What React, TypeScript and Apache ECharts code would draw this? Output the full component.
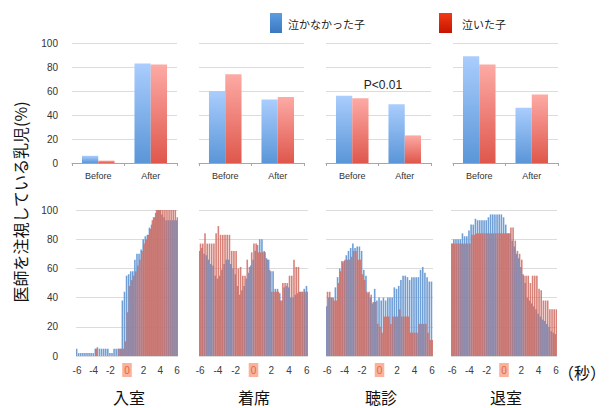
import React, { useEffect, useRef } from "react";
import * as echarts from "echarts";

// Summary bars: share of infants looking at the doctor before / after each event
const summaryCategories = ["Before", "After"];
const summaryNotCried = {
  entry: [6, 83],
  seat: [60, 53],
  auscultation: [56, 49],
  exit: [89, 46],
};
const summaryCried = {
  entry: [2, 82],
  seat: [74, 55],
  auscultation: [54, 23],
  exit: [82, 57],
};

// Time course around each event, 0.25 s bins from -6 s to +6 s
const timeTicks = ["-6", "-4", "-2", "0", "2", "4", "6"];
const timeBins: string[] = Array.from({ length: 49 }, (_, i) => String(-6 + i * 0.25));

const entryNotCried = [
  5, 2, 2, 2, 2, 2, 2, 2, 2, 5, 6, 5, 5, 5, 5, 5, 2, 2, 5, 5, 5, 5, 38, 44, 55,
  56, 58, 58, 66, 70, 70, 73, 80, 82, 83, 88, 90, 95, 98, 100, 100, 97, 95, 93, 93, 93, 93, 93, 93,
];
const entryCried = [
  0, 0, 0, 0, 0, 0, 0, 0, 0, 5, 0, 0, 0, 0, 0, 0, 0, 0, 0, 0, 5, 5, 5, 10, 30,
  48, 52, 55, 58, 62, 66, 72, 77, 80, 83, 87, 93, 95, 100, 100, 100, 100, 100, 100, 100, 100, 100, 100, 95,
];
const seatNotCried = [
  72, 74, 70, 69, 66, 63, 62, 55, 53, 55, 59, 63, 66, 66, 63, 60, 56, 48, 42, 45, 48, 53, 57, 62, 66,
  72, 76, 80, 80, 72, 67, 66, 58, 58, 46, 46, 43, 38, 47, 48, 47, 40, 40, 42, 43, 44, 44, 46, 48,
];
const seatCried = [
  77, 77, 84, 77, 77, 77, 77, 84, 89, 83, 83, 83, 83, 83, 72, 72, 72, 60, 61, 55, 55, 66, 61, 71, 77,
  77, 71, 71, 71, 71, 66, 59, 44, 44, 44, 44, 38, 50, 50, 50, 55, 55, 66, 61, 61, 44, 44, 44, 44,
];
const auscNotCried = [
  34, 40, 40, 40, 47, 54, 60, 65, 65, 69, 72, 74, 77, 74, 75, 75, 72, 59, 55, 43, 40, 36, 46, 38, 40,
  38, 40, 38, 40, 40, 40, 47, 46, 48, 52, 55, 55, 54, 52, 54, 54, 54, 54, 59, 61, 57, 54, 51, 51,
];
const auscCried = [
  44, 44, 40, 38, 38, 50, 58, 64, 66, 66, 66, 68, 72, 72, 66, 66, 56, 52, 44, 44, 42, 37, 37, 22, 20,
  16, 27, 27, 27, 22, 27, 27, 27, 32, 27, 27, 27, 27, 16, 16, 16, 16, 22, 22, 22, 22, 16, 11, 11,
];
const exitNotCried = [
  77, 80, 80, 80, 80, 84, 82, 82, 86, 90, 90, 94, 93, 93, 93, 93, 93, 95, 97, 97, 97, 97, 97, 97, 95,
  90, 84, 84, 79, 75, 70, 67, 61, 56, 50, 40, 38, 36, 34, 32, 29, 27, 25, 24, 22, 20, 17, 16, 15,
];
const exitCried = [
  77, 77, 77, 77, 77, 77, 77, 77, 77, 83, 83, 84, 84, 84, 84, 84, 84, 84, 84, 84, 84, 84, 84, 84, 84,
  84, 84, 88, 88, 79, 72, 70, 66, 55, 55, 55, 50, 55, 55, 55, 46, 45, 38, 38, 38, 32, 32, 32, 32,
];

const eventNames = ["入室", "着席", "聴診", "退室"];
const legendNames = ["泣かなかった子", "泣いた子"];
const yTitle = "医師を注視している乳児(%)";
const pValueNote = "P<0.01";
const secondsUnit = "（秒）";

const summaryKeys = ["entry", "seat", "auscultation", "exit"] as const;
const courseNotCried = [entryNotCried, seatNotCried, auscNotCried, exitNotCried];
const courseCried = [entryCried, seatCried, auscCried, exitCried];

const LABEL_FONT = "'Liberation Sans', 'Noto Sans', sans-serif";
const CJK_FONT = "'Noto Sans CJK JP', sans-serif";

const blueGrad = () =>
  new echarts.graphic.LinearGradient(0, 0, 0, 1, [
    { offset: 0, color: "#aacdfd" },
    { offset: 1, color: "#5a96d8" },
  ]);
const redGrad = () =>
  new echarts.graphic.LinearGradient(0, 0, 0, 1, [
    { offset: 0, color: "#fdaaa5" },
    { offset: 1, color: "#df574c" },
  ]);

export default function App() {
  const ref = useRef<HTMLDivElement>(null);

  useEffect(() => {
    if (!ref.current) return;
    const chart = echarts.init(ref.current, undefined, { renderer: "svg" });

    const topLefts = [72, 199, 326, 453];
    const botLefts = [76, 199, 326, 451];
    const botWidths = [102, 109, 107, 106];

    const grids: any[] = [];
    const xAxes: any[] = [];
    const yAxes: any[] = [];
    const series: any[] = [];

    const yAxisBase = (idx: number, showLabels: boolean, margin: number) => ({
      type: "value",
      gridIndex: idx,
      min: 0,
      max: 100,
      interval: 20,
      axisLine: { show: false },
      axisTick: { show: false },
      splitLine: { lineStyle: { color: "#dcdcdc", width: 1 } },
      axisLabel: {
        show: showLabels,
        margin,
        color: "#333",
        fontSize: 10,
        fontFamily: LABEL_FONT,
      },
    });

    // Upper row: before / after summaries
    for (let p = 0; p < 4; p++) {
      const g = grids.length;
      grids.push({ left: topLefts[p], top: 43, width: 105, height: 120 });
      xAxes.push({
        type: "category",
        gridIndex: g,
        data: summaryCategories,
        axisLine: { lineStyle: { color: "#a6a6a6" } },
        axisTick: { show: true, length: 3, lineStyle: { color: "#a6a6a6" } },
        axisLabel: { color: "#333", fontSize: 9, margin: 8, fontFamily: LABEL_FONT },
      });
      yAxes.push(yAxisBase(g, p === 0, 14));
      const key = summaryKeys[p];
      series.push({
        type: "bar",
        name: legendNames[0],
        xAxisIndex: g,
        yAxisIndex: g,
        data: summaryNotCried[key],
        barGap: "0%",
        barCategoryGap: "38%",
        itemStyle: { color: blueGrad() },
      });
      series.push({
        type: "bar",
        name: legendNames[1],
        xAxisIndex: g,
        yAxisIndex: g,
        data: summaryCried[key],
        barGap: "0%",
        barCategoryGap: "38%",
        itemStyle: { color: redGrad() },
      });
    }

    // Lower row: time course in 0.25 s bins
    for (let p = 0; p < 4; p++) {
      const g = grids.length;
      grids.push({ left: botLefts[p], top: 210, width: botWidths[p], height: 146 });
      xAxes.push({
        type: "category",
        gridIndex: g,
        data: timeBins,
        axisLine: { show: false },
        axisTick: { show: false },
        axisLabel: {
          interval: (index: number) => index % 8 === 0,
          margin: 8,
          color: "#404040",
          fontSize: 10,
          fontFamily: LABEL_FONT,
          formatter: (v: string) => {
            const n = Number(v);
            const tick = timeTicks.find((t) => Number(t) === n);
            if (tick === undefined) return "";
            return tick === "0" ? "{zero|0}" : `{plain|${tick}}`;
          },
          rich: {
            plain: {
              color: "#404040",
              fontSize: 10,
              fontFamily: LABEL_FONT,
              lineHeight: 12,
              padding: [2, 2, 2, 2],
            },
            zero: {
              backgroundColor: "#f9b29c",
              color: "#e2663e",
              fontSize: 10,
              fontFamily: LABEL_FONT,
              lineHeight: 12,
              padding: [2, 2, 2, 2],
            },
          },
        },
      });
      yAxes.push(yAxisBase(g, p === 0, 18));
      series.push({
        type: "bar",
        name: legendNames[0],
        xAxisIndex: g,
        yAxisIndex: g,
        data: courseNotCried[p],
        barWidth: 1.6,
        barGap: "-45%",
        itemStyle: { color: "#709fd6" },
      });
      series.push({
        type: "bar",
        name: legendNames[1],
        xAxisIndex: g,
        yAxisIndex: g,
        data: courseCried[p],
        barWidth: 1.6,
        barGap: "-45%",
        itemStyle: { color: "rgba(206,102,92,0.82)" },
      });
    }

    const titleCenters = [129, 254, 381, 506];

    chart.setOption({
      animation: false,
      backgroundColor: "#ffffff",
      grid: grids,
      xAxis: xAxes,
      yAxis: yAxes,
      series,
      graphic: [
        {
          type: "rect",
          shape: { x: 270, y: 13, width: 12, height: 20 },
          style: {
            fill: new echarts.graphic.LinearGradient(0, 0, 0, 1, [
              { offset: 0, color: "#5c9de2" },
              { offset: 1, color: "#3a77c0" },
            ]),
          },
        },
        {
          type: "text",
          x: 288,
          y: 24,
          style: {
            text: legendNames[0],
            fontSize: 11,
            fontFamily: CJK_FONT,
            fill: "#222",
            verticalAlign: "middle",
          },
        },
        {
          type: "rect",
          shape: { x: 439, y: 13, width: 13, height: 20 },
          style: {
            fill: new echarts.graphic.LinearGradient(0, 0, 0, 1, [
              { offset: 0, color: "#f23a14" },
              { offset: 1, color: "#c81400" },
            ]),
          },
        },
        {
          type: "text",
          x: 462,
          y: 24,
          style: {
            text: legendNames[1],
            fontSize: 11,
            fontFamily: CJK_FONT,
            fill: "#222",
            verticalAlign: "middle",
          },
        },
        {
          type: "text",
          x: 383,
          y: 85,
          style: {
            text: pValueNote,
            fontSize: 12,
            fontFamily: LABEL_FONT,
            fill: "#222",
            align: "center",
            verticalAlign: "middle",
          },
        },
        {
          type: "text",
          x: 20,
          y: 202,
          rotation: Math.PI / 2,
          style: {
            text: yTitle,
            fontSize: 16,
            fontFamily: CJK_FONT,
            fill: "#111",
            align: "center",
            verticalAlign: "middle",
          },
        },
        ...eventNames.map((name, i) => ({
          type: "text",
          x: titleCenters[i],
          y: 397,
          style: {
            text: name,
            fontSize: 16,
            fontFamily: CJK_FONT,
            fill: "#111",
            align: "center",
            verticalAlign: "middle",
          },
        })),
        {
          type: "text",
          x: 582,
          y: 372,
          style: {
            text: secondsUnit,
            fontSize: 16,
            fontFamily: CJK_FONT,
            fill: "#111",
            align: "center",
            verticalAlign: "middle",
          },
        },
      ],
    });

    return () => chart.dispose();
  }, []);

  return (
    <div
      ref={ref}
      style={{ position: "fixed", left: 0, top: 0, width: 610, height: 408, background: "#fff" }}
    />
  );
}
